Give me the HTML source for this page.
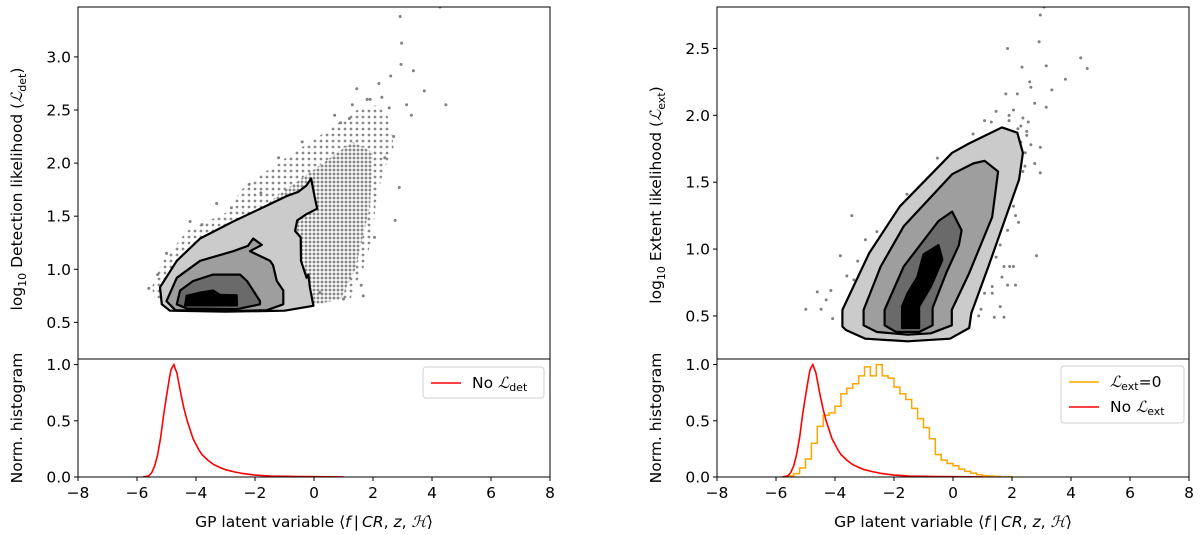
<!DOCTYPE html>
<html><head><meta charset="utf-8">
<style>
html,body{margin:0;padding:0;background:#fff;}
svg{display:block;font-family:"DejaVu Sans","Liberation Sans",sans-serif;}
</style></head>
<body>
<svg id="fig" width="1200" height="535" viewBox="0 0 1200 535" xmlns="http://www.w3.org/2000/svg">
<defs>
<pattern id="dots" width="4" height="4" patternUnits="userSpaceOnUse"><rect width="4" height="4" fill="#fff"/><circle cx="2" cy="2" r="1.5" fill="#8a8a8a"/></pattern>
<pattern id="dotsSparse" width="6" height="6" patternUnits="userSpaceOnUse"><rect width="6" height="6" fill="#fff"/><circle cx="3" cy="3" r="1.4" fill="#8a8a8a"/></pattern>
</defs>
</svg>
<script>
// ---------- DATA ----------
const xTicks = [-8,-6,-4,-2,0,2,4,6,8];
const leftTopYTicks = [0.5,1.0,1.5,2.0,2.5,3.0];
const rightTopYTicks = [0.5,1.0,1.5,2.0,2.5];
const histYTicks = [0.0,0.5,1.0];

// left contours (x, y) in data coords
const detLevel1 = [[-5.22,0.83],[-4.65,1.08],[-3.86,1.29],[-2.74,1.45],[-1.6,1.6],[-0.92,1.69],[-0.53,1.73],[-0.25,1.79],[-0.10,1.855],[0.03,1.67],[0.11,1.57],[-0.25,1.52],[-0.57,1.46],[-0.64,1.36],[-0.45,1.30],[-0.44,1.08],[-0.25,0.92],[-0.19,0.95],[-0.14,0.83],[-0.02,0.656],[-1,0.61],[-3,0.60],[-4.88,0.61],[-5.16,0.67]];
const detLevel2 = [[-5.0,0.70],[-4.65,0.92],[-3.86,1.08],[-2.74,1.17],[-2.24,1.22],[-2.06,1.29],[-1.77,1.23],[-2.17,1.17],[-1.49,1.08],[-1.39,1.04],[-1.26,0.89],[-1.04,0.80],[-1.04,0.67],[-1.6,0.615],[-3,0.605],[-4.7,0.615]];
const detLevel3 = [[-4.65,0.67],[-4.54,0.80],[-4.1,0.89],[-3.42,0.95],[-2.51,0.95],[-2.27,0.89],[-1.83,0.70],[-1.83,0.67],[-2.6,0.625],[-4.3,0.63]];
const detLevel4 = [[-4.37,0.66],[-4.32,0.75],[-3.86,0.78],[-3.42,0.80],[-3.19,0.76],[-2.62,0.755],[-2.61,0.66]];
const detCloud = [[-5.5,0.83],[-5.16,1.06],[-4.31,1.36],[-2.85,1.55],[-2.51,1.74],[-1.49,1.95],[-0.14,2.2],[0.54,2.32],[1.45,2.5],[2.2,2.55],[2.6,2.4],[2.7,2.15],[2.35,1.92],[2.12,1.67],[2.0,1.36],[1.78,1.08],[1.33,0.80],[1.22,0.70],[0.43,0.70],[-0.02,0.66],[-3,0.6],[-5.4,0.72]];
const detCore = [[-4.5,1.0],[-2.8,1.35],[-1.2,1.7],[0.3,2.0],[1.3,2.2],[2.0,2.1],[1.9,1.6],[1.4,1.0],[0.9,0.72],[-0.02,0.66],[-3,0.62],[-4.8,0.7]];
const detX = [2.92,2.97,2.95,4.47,3.74,2.75,2.89,4.27,1.67,3.37,3.14,2.6,2.2,1.9,1.3,0.7,-0.4,-1.2,-2.2,-3.3,-4.2,-5.0,-5.6,-5.3,2.4,2.05,1.6,1.0,0.2,-0.8,-1.8,-2.8,-3.8,3.3,2.7,1.45,2.3,1.8,1.2,2.55,0.9];
const detY = [3.38,3.13,2.93,2.55,2.68,1.46,1.77,3.47,0.75,2.87,2.55,2.82,2.75,2.6,2.55,2.45,2.2,2.05,1.8,1.62,1.45,1.15,0.82,0.95,2.05,1.3,0.85,0.72,0.78,0.95,1.72,1.58,1.42,2.45,2.25,2.7,2.62,2.6,2.42,2.52,2.38];

// right contours
const extLevel1 = [[-3.75,0.42],[-3.75,0.545],[-2.84,0.97],[-1.80,1.32],[-0.03,1.72],[0.55,1.79],[1.66,1.91],[2.18,1.87],[2.37,1.72],[2.24,1.52],[1.20,0.87],[0.62,0.52],[0.55,0.41],[-0.10,0.33],[-1.54,0.31],[-2.97,0.33],[-3.63,0.395]];
const extLevel2 = [[-3.03,0.43],[-3.03,0.545],[-2.45,0.87],[-1.67,1.17],[-0.03,1.56],[0.68,1.64],[1.07,1.66],[1.53,1.58],[1.33,1.24],[0.55,0.82],[-0.04,0.545],[-0.04,0.43],[-0.75,0.37],[-1.54,0.36],[-2.58,0.38]];
const extLevel3 = [[-2.32,0.43],[-2.32,0.545],[-1.67,0.87],[-0.49,1.21],[-0.03,1.28],[0.29,1.14],[0.2,1.03],[-0.23,0.82],[-0.69,0.56],[-0.69,0.43],[-1.15,0.38],[-1.93,0.38]];
const extLevel4 = [[-1.73,0.41],[-1.73,0.57],[-1.54,0.67],[-1.21,0.79],[-1.0,0.96],[-0.49,1.03],[-0.36,0.92],[-0.75,0.72],[-1.15,0.57],[-1.15,0.41]];
const extX = [-4.99,-4.47,-4.14,-4.08,-3.82,-3.43,-2.58,-2.97,-3.23,-3.36,-1.56,-0.53,0.68,1.07,1.46,1.85,2.34,2.96,2.92,3.08,4.33,4.55,3.81,3.16,3.35,2.77,3.16,2.64,2.18,1.79,2.05,2.37,2.50,2.64,2.96,2.77,2.96,2.44,2.37,2.83,2.05,2.12,2.22,1.85,1.6,1.46,1.73,1.92,1.66,2.05,2.12,1.85,1.33,1.33,1.6,1.4,1.73,0.87,0.95,1.07,-4.3,-4.6,-3.6,1.3,1.9,2.6,2.3,2.5,2.55,2.3,2.45,1.9,2.2];
const extY = [0.55,0.55,0.69,0.48,0.95,1.25,1.13,1.07,0.91,0.77,1.41,1.68,1.86,1.96,2.03,2.50,2.36,2.75,2.55,2.81,2.43,2.35,2.27,2.37,2.19,2.09,2.06,2.21,2.16,2.16,2.04,1.98,1.88,1.78,1.76,1.64,1.57,1.62,1.58,0.95,1.32,1.25,1.20,1.14,1.03,0.94,0.87,0.87,0.79,0.87,0.73,0.73,0.72,0.67,0.57,0.49,0.49,0.50,0.55,0.67,0.62,0.68,0.8,1.95,2.0,2.25,1.92,1.85,1.95,1.8,1.72,1.96,1.9];

// histograms
const redBins = [-5.8,-5.6,-5.5,-5.4,-5.3,-5.2,-5.1,-5.0,-4.95,-4.9,-4.85,-4.8,-4.75,-4.7,-4.65,-4.6,-4.5,-4.4,-4.3,-4.2,-4.1,-4.0,-3.9,-3.8,-3.6,-3.4,-3.2,-3.0,-2.7,-2.4,-2.0,-1.5,-1.0,-0.5,0,0.5,1.0];
const redVals = [0,0.01,0.04,0.1,0.2,0.35,0.55,0.72,0.8,0.88,0.95,0.98,1.0,0.96,0.93,0.86,0.72,0.6,0.5,0.42,0.34,0.29,0.24,0.2,0.15,0.11,0.085,0.065,0.045,0.03,0.017,0.009,0.006,0.004,0.003,0.002,0.001];
const orangeEdges = [-5.6,-5.4,-5.2,-5.0,-4.8,-4.6,-4.4,-4.2,-4.0,-3.8,-3.6,-3.4,-3.2,-3.0,-2.8,-2.6,-2.4,-2.2,-2.0,-1.8,-1.6,-1.4,-1.2,-1.0,-0.8,-0.6,-0.4,-0.2,0.0,0.2,0.4,0.6,0.8,1.0,1.2,1.4,1.6,1.8,2.0];
const orangeVals = [0.01,0.03,0.08,0.16,0.3,0.45,0.55,0.57,0.63,0.74,0.79,0.83,0.9,0.98,0.9,1.0,0.9,0.88,0.8,0.74,0.69,0.61,0.52,0.44,0.34,0.2,0.15,0.12,0.1,0.07,0.05,0.035,0.02,0.012,0.008,0.005,0.003,0.002];

// ---------- DRAW ----------
const NS = "http://www.w3.org/2000/svg";
const svg = document.getElementById('fig');
function el(tag, attrs, parent){const e=document.createElementNS(NS,tag);for(const k in attrs)e.setAttribute(k,attrs[k]);(parent||svg).appendChild(e);return e;}
const FS = 15.5;

const panels = [
  {x0:78,x1:550,top:7,mid:359,bot:477,ymin:0.155,ymax:3.47,yticks:leftTopYTicks,name:'detection'},
  {x0:717,x1:1189,top:7,mid:359,bot:477,ymin:0.178,ymax:2.81,yticks:rightTopYTicks,name:'extent'}
];
panels.forEach((P,pi)=>{
  const sx = v => P.x0 + (v+8)/16*(P.x1-P.x0);
  const sy = v => P.mid - (v-P.ymin)/(P.ymax-P.ymin)*(P.mid-P.top);
  const hy = v => P.bot - v/1.05*(P.bot-P.mid);
  const g = el('g',{});
  
  
  const clipId='clip'+pi;
  const cp=el('clipPath',{id:clipId},g);el('rect',{x:P.x0,y:P.top,width:P.x1-P.x0,height:P.mid-P.top},cp);
  const pts = arr => arr.map(p=>sx(p[0]).toFixed(1)+','+sy(p[1]).toFixed(1)).join(' ');
  const plot = el('g',{'clip-path':'url(#'+clipId+')'},g);
  
  
  if(pi===0){
    const c = el('polygon',{points:pts(detCloud),fill:'url(#dotsSparse)',stroke:'none'},plot);
    
    
    const c2 = el('polygon',{points:pts(detCore),fill:'url(#dots)',stroke:'none'},plot);
    
    
  }
  const xs = pi===0?detX:extX, ys = pi===0?detY:extY;
  for(let i=0;i<xs.length;i++){
    const d = el('circle',{cx:sx(xs[i]),cy:sy(ys[i]),r:1.5,fill:'#808080'},plot);
    
    
  }
  const levels = pi===0?[detLevel1,detLevel2,detLevel3,detLevel4]:[extLevel1,extLevel2,extLevel3,extLevel4];
  const fills=['#cbcbcb','#9e9e9e','#6a6a6a','#000000'];
  levels.forEach((L,li)=>{
    const p = el('polygon',{points:pts(L),fill:fills[li],stroke:'#000','stroke-width':2.2,'stroke-linejoin':'round'},plot);
    
    
  });
  // histogram
  const hclip='hclip'+pi;
  const cp2=el('clipPath',{id:hclip},g);el('rect',{x:P.x0,y:P.mid,width:P.x1-P.x0,height:P.bot-P.mid},cp2);
  const hg = el('g',{'clip-path':'url(#'+hclip+')'},g);
  if(pi===1){
    let d='M'+sx(orangeEdges[0])+','+hy(0);
    for(let i=0;i<orangeVals.length;i++){d+=' L'+sx(orangeEdges[i]).toFixed(1)+','+hy(orangeVals[i]).toFixed(1)+' L'+sx(orangeEdges[i+1]).toFixed(1)+','+hy(orangeVals[i]).toFixed(1);}
    d+=' L'+sx(orangeEdges[orangeEdges.length-1])+','+hy(0);
    const o=el('path',{d:d,fill:'none',stroke:'#ffa500','stroke-width':1.5},hg);
    
    
  }
  const r=el('polyline',{points:redBins.map((b,i)=>sx(b).toFixed(1)+','+hy(redVals[i]).toFixed(1)).join(' '),fill:'none',stroke:'#ff0000','stroke-width':1.6},hg);
  
  
  // frames
  el('rect',{x:P.x0,y:P.top,width:P.x1-P.x0,height:P.bot-P.top,fill:'none',stroke:'#000','stroke-width':1},g);
  el('line',{x1:P.x0,x2:P.x1,y1:P.mid,y2:P.mid,stroke:'#000','stroke-width':1},g);
  // x ticks
  xTicks.forEach(t=>{
    el('line',{x1:sx(t),x2:sx(t),y1:P.bot,y2:P.bot+4,stroke:'#000'},g);
    const tx=el('text',{x:sx(t),y:P.bot+21,'font-size':FS,'text-anchor':'middle'},g);
    tx.textContent=(t<0?'\u2212'+(-t):''+t);
    
    
  });
  P.yticks.forEach(t=>{
    el('line',{x1:P.x0-4,x2:P.x0,y1:sy(t),y2:sy(t),stroke:'#000'},g);
    const tx=el('text',{x:P.x0-7,y:sy(t)+5.5,'font-size':FS,'text-anchor':'end'},g);
    tx.textContent=t.toFixed(1);
    
    
  });
  histYTicks.forEach(t=>{
    el('line',{x1:P.x0-4,x2:P.x0,y1:hy(t),y2:hy(t),stroke:'#000'},g);
    const tx=el('text',{x:P.x0-7,y:hy(t)+5.5,'font-size':FS,'text-anchor':'end'},g);
    tx.textContent=t.toFixed(1);
    
    
  });
  // axis titles
  const xl=el('text',{x:(P.x0+P.x1)/2,y:527,'font-size':FS,'text-anchor':'middle'},g);
  xl.innerHTML='GP latent variable \u27E8<tspan font-style="italic">f</tspan>\u2009|\u2009<tspan font-style="italic">CR</tspan>, <tspan font-style="italic">z</tspan>, <tspan font-family="Liberation Serif, serif" font-style="italic">\u210B</tspan>\u27E9';
  
  
  const yx = P.x0-56;
  const yl=el('text',{x:0,y:0,'font-size':FS,'text-anchor':'middle',transform:'translate('+yx+','+((P.top+P.mid)/2+(pi===0?6:12))+') rotate(-90)'},g);
  const sub = pi===0?'det':'ext';
  yl.innerHTML='log<tspan font-size="11" dy="4">10</tspan><tspan dy="-4"> '+(pi===0?'Detection':'Extent')+' likelihood (</tspan><tspan font-family="Liberation Serif, serif" font-style="italic">\u2112</tspan><tspan font-size="11" dy="4">'+sub+'</tspan><tspan dy="-4">)</tspan>';
  
  
  const hl=el('text',{x:0,y:0,'font-size':FS,'text-anchor':'middle',transform:'translate('+yx+','+(P.mid+P.bot)/2+') rotate(-90)'},g);
  hl.textContent='Norm. histogram';
  
  
  // legend
  const lg = el('g',{},g);
  
  
  if(pi===0){
    el('rect',{x:423,y:367,width:121,height:31,rx:3,fill:'#fff',stroke:'#d0d0d0'},lg);
    el('line',{x1:431,x2:461,y1:383,y2:383,stroke:'#ff0000','stroke-width':1.6},lg);
    const t=el('text',{x:472,y:388,'font-size':FS},lg);
    t.innerHTML='No <tspan font-family="Liberation Serif, serif" font-style="italic">\u2112</tspan><tspan font-size="11" dy="3">det</tspan>';
    
    
  } else {
    el('rect',{x:1061,y:366,width:123,height:57,rx:3,fill:'#fff',stroke:'#d0d0d0'},lg);
    el('line',{x1:1069,x2:1099,y1:382,y2:382,stroke:'#ffa500','stroke-width':1.6},lg);
    el('line',{x1:1069,x2:1099,y1:407,y2:407,stroke:'#ff0000','stroke-width':1.6},lg);
    const t1=el('text',{x:1110,y:387,'font-size':FS},lg);
    t1.innerHTML='<tspan font-family="Liberation Serif, serif" font-style="italic">\u2112</tspan><tspan font-size="11" dy="3">ext</tspan><tspan dy="-3">=0</tspan>';
    
    
    const t2=el('text',{x:1110,y:412,'font-size':FS},lg);
    t2.innerHTML='No <tspan font-family="Liberation Serif, serif" font-style="italic">\u2112</tspan><tspan font-size="11" dy="3">ext</tspan>';
    
    
  }
});
</script>
</body></html>
